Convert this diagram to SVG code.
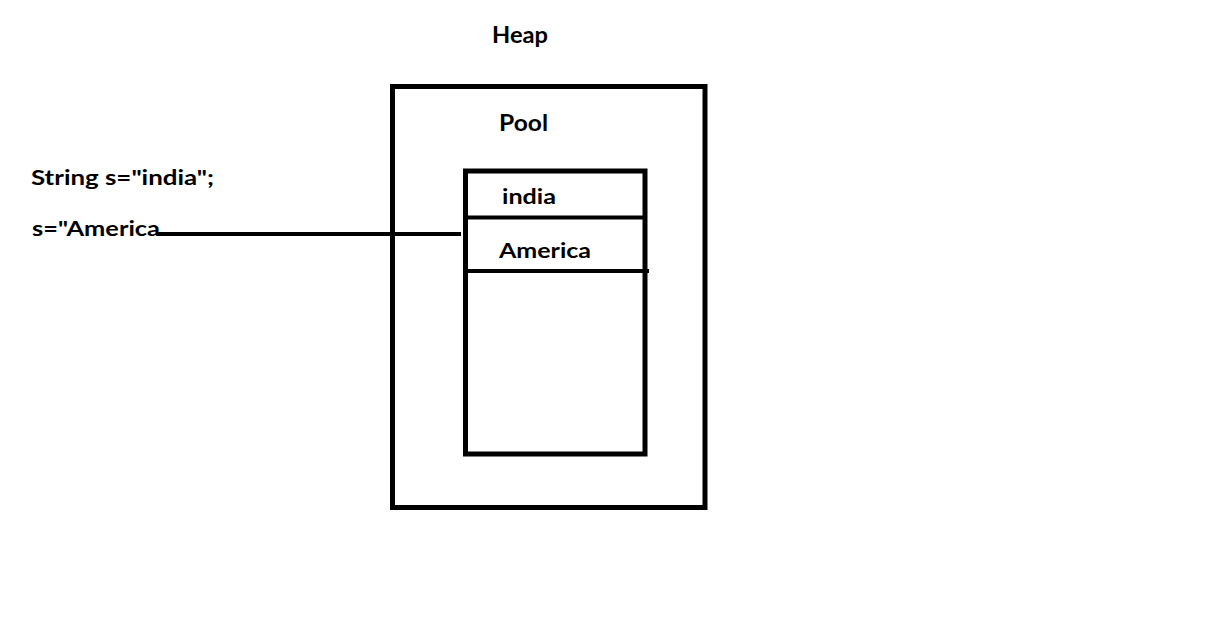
<svg xmlns="http://www.w3.org/2000/svg" width="1217" height="622" viewBox="0 0 1217 622">
<style>
.t{font-family:Lato,"Open Sans","Liberation Sans",sans-serif;font-weight:bold;fill:#000}
.box{fill:none;stroke:#000;stroke-width:5}
.ln{stroke:#000;stroke-width:4;fill:none}
</style>
<rect width="1217" height="622" fill="#fff"/>
<text class="t" x="492" y="43" font-size="23" textLength="56" lengthAdjust="spacingAndGlyphs">Heap</text>
<g id="heap">
<rect class="box" x="392.5" y="86.5" width="312.5" height="421"/>
<text class="t" x="499" y="131" font-size="22" textLength="49" lengthAdjust="spacingAndGlyphs">Pool</text>
</g>
<g id="pool">
<rect class="box" x="465.5" y="171" width="179.5" height="283"/>
<line class="ln" x1="465.5" y1="217.5" x2="645" y2="217.5"/>
<line class="ln" x1="465.5" y1="271" x2="649" y2="271"/>
<text class="t" x="502" y="204" font-size="21" textLength="54" lengthAdjust="spacingAndGlyphs">india</text>
<text class="t" x="499" y="258" font-size="21" textLength="92" lengthAdjust="spacingAndGlyphs">America</text>
</g>
<g id="code">
<text class="t" x="31" y="185" font-size="21" textLength="183" lengthAdjust="spacingAndGlyphs">String s="india";</text>
<text class="t" x="32" y="236" font-size="21" textLength="128" lengthAdjust="spacingAndGlyphs">s="America</text>
</g>
<g id="connectors">
<line class="ln" x1="158" y1="234" x2="461" y2="234"/>
</g>
</svg>
